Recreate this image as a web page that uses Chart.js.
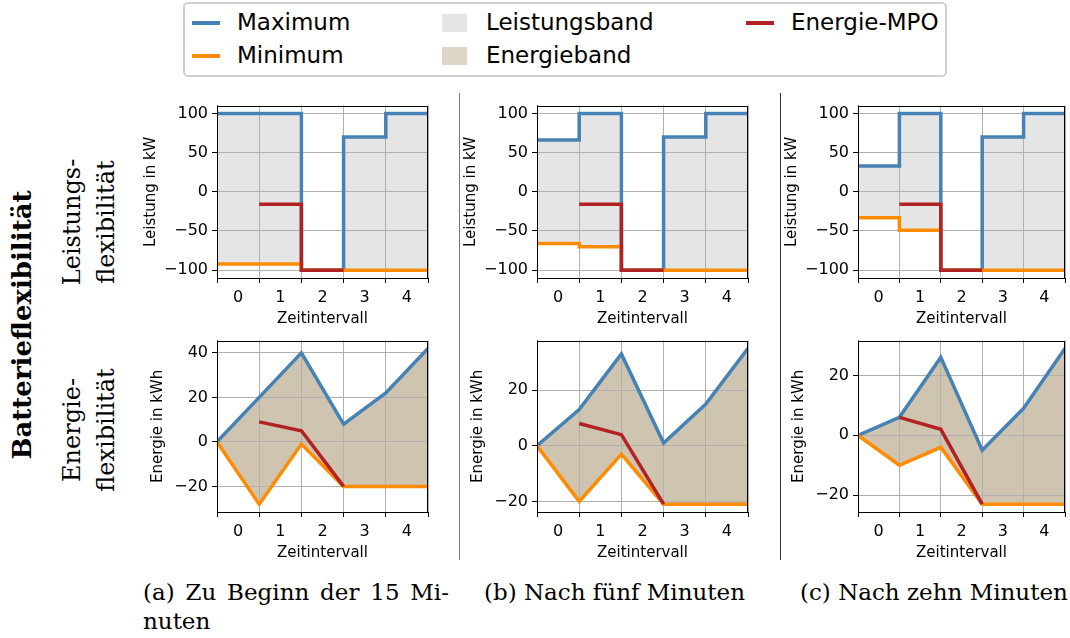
<!DOCTYPE html>
<html>
<head>
<meta charset="utf-8">
<script src="https://cdn.jsdelivr.net/npm/chart.js@4.4.1/dist/chart.umd.min.js"></script>
<style>
  html, body { margin: 0; padding: 0; background: #fff; }
  body { width: 1070px; height: 638px; position: relative; overflow: hidden; font-family: 'DejaVu Sans', sans-serif; }
  canvas { position: absolute; }
  #legend { position: absolute; left: 183px; top: 2px; width: 760px; height: 71px; border: 2px solid #d0d0d0; border-radius: 5px; }
  .lg { position: absolute; font-size: 23px; line-height: 26px; color: #000; white-space: nowrap; }
  .hl { position: absolute; width: 28px; height: 4px; }
  .hp { position: absolute; width: 25px; height: 18px; }
  .serif { position: absolute; font-family: 'DejaVu Serif', serif; font-size: 23px; color: #000; white-space: nowrap; }
  .rot { transform: translate(-50%, -50%) rotate(-90deg); text-align: center; line-height: 34px; font-size: 24px; }
  .sep { position: absolute; width: 1px; }
</style>
</head>
<body>
<div id="legend">
  <div class="hl" style="left:7px;top:17px;background:#4682b4"></div>
  <div class="lg" style="left:52px;top:5px">Maximum</div>
  <div class="hl" style="left:7px;top:50px;background:#ff8c00"></div>
  <div class="lg" style="left:52px;top:38px">Minimum</div>
  <div class="hp" style="left:257px;top:10px;background:#e5e5e5"></div>
  <div class="lg" style="left:301px;top:5px">Leistungsband</div>
  <div class="hp" style="left:257px;top:43px;background:#ddd5c5"></div>
  <div class="lg" style="left:301px;top:38px">Energieband</div>
  <div class="hl" style="left:561px;top:17px;background:#b22222"></div>
  <div class="lg" style="left:606px;top:5px">Energie-MPO</div>
</div>

<div class="serif rot" style="left:22px;top:325px;font-weight:bold;font-size:26px">Batterieflexibilität</div>
<div class="serif rot" style="left:89px;top:222px">Leistungs-<br>flexibilität</div>
<div class="serif rot" style="left:89px;top:430px">Energie-<br>flexibilität</div>

<div class="sep" style="left:459px;top:93px;height:467px;background:#777"></div>
<div class="sep" style="left:780px;top:93px;height:467px;background:#333"></div>

<div class="serif" style="left:143px;top:579px;width:306px;text-align:justify;text-align-last:justify">(a) Zu Beginn der 15 Mi-</div>
<div class="serif" style="left:143px;top:608px">nuten</div>
<div class="serif" style="left:484px;top:579px">(b) Nach fünf Minuten</div>
<div class="serif" style="left:800px;top:579px">(c) Nach zehn Minuten</div>

<canvas id="pa"></canvas><canvas id="pb"></canvas><canvas id="pc"></canvas>
<canvas id="ea"></canvas><canvas id="eb"></canvas><canvas id="ec"></canvas>

<script>
// Zeitintervalle (x-Achse)
const intervalLabels = ['0', '1', '2', '3', '4'];

// Leistung in kW je Zeitintervall
const powerMaxA = [100, 100, -100, 70, 100];
const powerMinA = [-92, -92, -100, -100, -100];
const powerMaxB = [66, 100, -100, 70, 100];
const powerMinB = [-66, -70, -100, -100, -100];
const powerMaxC = [33, 100, -100, 70, 100];
const powerMinC = [-33, -49, -100, -100, -100];
const powerMpo = [null, -16, -100, null, null];

// Energie in kWh an den Intervallgrenzen 0..5
const energyMaxA = [0, 20, 40, 8, 22, 42];
const energyMinA = [0, -28, -1, -20, -20, -20];
const energyMpoA = [null, 9, 5, -20, null, null];
const energyMaxB = [0, 13, 33, 1, 15, 35];
const energyMinB = [0, -20, -3, -21, -21, -21];
const energyMpoB = [null, 8, 4, -21, null, null];
const energyMaxC = [0, 6, 26, -5, 9, 29];
const energyMinC = [0, -10, -4, -23, -23, -23];
const energyMpoC = [null, 6, 2, -23, null, null];

const BLUE = '#4682b4', ORANGE = '#ff8c00', RED = '#b22222';
const GRID = '#b0b0b0';
const LW = 3.5;
const isInt = v => Math.abs(v - Math.round(v)) < 1e-9;
const minus = v => (v < 0 ? '\u2212' + Math.abs(v) : '' + v);

// step data: value of interval i from x=i to x=i+1
function stepPoints(vals) {
  const pts = [];
  let last = -1;
  vals.forEach((v, i) => { if (v !== null) { pts.push({ x: i, y: v }); last = i; } });
  if (last >= 0) pts.push({ x: last + 1, y: vals[last] });
  return pts;
}
function timePoints(vals) {
  return vals.map((v, i) => ({ x: i, y: v }));
}

const gridOnTop = {
  id: 'gridOnTop',
  beforeDatasetsDraw(chart) {
    chart.scales.x.drawGrid(chart.chartArea);
    chart.scales.y.drawGrid(chart.chartArea);
  }
};
const frame = {
  id: 'frame',
  afterDraw(chart) {
    const a = chart.chartArea, ctx = chart.ctx;
    ctx.save();
    ctx.strokeStyle = '#000';
    ctx.lineWidth = 1;
    ctx.strokeRect(Math.round(a.left) + 0.5, Math.round(a.top) + 0.5,
      Math.round(a.right - a.left) - 1, Math.round(a.bottom - a.top));
    ctx.restore();
  }
};

function makeChart(id, box, opts) {
  const cv = document.getElementById(id);
  const yW = 80, xH = 50, padT = 12, padR = box.padR;
  cv.width = yW + box.w + padR;
  cv.height = padT + box.h + xH;
  cv.style.left = (box.l - yW) + 'px';
  cv.style.top = (box.t - padT) + 'px';

  const n = intervalLabels.length;
  const xTicks = [];
  for (let i = 0; i <= n; i++) { xTicks.push(i); if (i < n) xTicks.push(i + 0.5); }

  const all = opts.max.concat(opts.min).filter(v => v !== null);
  const lo = Math.min(...all), hi = Math.max(...all);
  const m = 0.05 * (hi - lo);

  const pts = opts.stepped ? stepPoints : timePoints;
  const stepMode = opts.stepped ? 'before' : false;

  new Chart(cv, {
    type: 'line',
    data: {
      datasets: [
        { label: 'Maximum', data: pts(opts.max), borderColor: BLUE, backgroundColor: opts.band,
          fill: 1, stepped: stepMode, borderWidth: LW, order: 2 },
        { label: 'Minimum', data: pts(opts.min), borderColor: ORANGE, fill: false,
          stepped: stepMode, borderWidth: LW, order: 1 },
        { label: 'Energie-MPO', data: pts(opts.mpo), borderColor: RED, fill: false,
          stepped: stepMode, borderWidth: LW, order: 0 }
      ]
    },
    plugins: [gridOnTop, frame],
    options: {
      responsive: false,
      animation: false,
      devicePixelRatio: 1,
      layout: { padding: { top: padT, right: padR, left: 0, bottom: 0 } },
      elements: { point: { radius: 0 }, line: { tension: 0, borderCapStyle: 'butt' } },
      plugins: {
        legend: { display: false },
        tooltip: { enabled: false },
        filler: { drawTime: 'beforeDatasetsDraw' }
      },
      scales: {
        x: {
          type: 'linear', min: 0, max: n,
          afterBuildTicks: s => { s.ticks = xTicks.map(v => ({ value: v })); },
          afterFit: s => { s.height = xH; },
          grid: {
            color: c => (c.tick && isInt(c.tick.value) ? GRID : 'rgba(0,0,0,0)'),
            tickColor: c => (c.tick && isInt(c.tick.value) ? '#000' : 'rgba(0,0,0,0)'),
            tickLength: 5, lineWidth: 1
          },
          border: { color: '#000' },
          ticks: {
            autoSkip: false, maxRotation: 0, minRotation: 0, padding: 5,
            color: '#000', font: { size: 16 },
            callback: v => (isInt(v) ? '' : intervalLabels[Math.floor(v)])
          },
          title: { display: true, text: 'Zeitintervall', color: '#000', font: { size: 15 }, padding: 0 }
        },
        y: {
          min: lo - m, max: hi + m,
          afterFit: s => { s.width = yW; },
          grid: { color: GRID, tickColor: '#000', tickLength: 5, lineWidth: 1 },
          border: { color: '#000' },
          ticks: {
            stepSize: opts.step, includeBounds: false, padding: 4,
            color: '#000', font: { size: 16 }, callback: v => minus(v)
          },
          title: { display: true, text: opts.yTitle, color: '#000', font: { size: 15 },
            padding: { top: opts.titlePad, bottom: 0 } }
        }
      }
    }
  });
}

Chart.defaults.font.family = "'DejaVu Sans', sans-serif";

const GRAY_BAND = '#e5e5e5';
const TAN_BAND = '#cfc4af';
const powerBox = (l, w, padR) => ({ l, t: 104, w, h: 174, padR });
const energyBox = (l, w, padR) => ({ l, t: 339, w, h: 173, padR });

makeChart('pa', powerBox(217, 211, 6), { stepped: true, max: powerMaxA, min: powerMinA, mpo: powerMpo, band: GRAY_BAND, step: 50, yTitle: 'Leistung in kW', titlePad: 5 });
makeChart('pb', powerBox(537, 211, 6), { stepped: true, max: powerMaxB, min: powerMinB, mpo: powerMpo, band: GRAY_BAND, step: 50, yTitle: 'Leistung in kW', titlePad: 5 });
makeChart('pc', powerBox(858, 210, 2), { stepped: true, max: powerMaxC, min: powerMinC, mpo: powerMpo, band: GRAY_BAND, step: 50, yTitle: 'Leistung in kW', titlePad: 5 });
makeChart('ea', energyBox(217, 211, 6), { stepped: false, max: energyMaxA, min: energyMinA, mpo: energyMpoA, band: TAN_BAND, step: 20, yTitle: 'Energie in kWh', titlePad: 12 });
makeChart('eb', energyBox(537, 211, 6), { stepped: false, max: energyMaxB, min: energyMinB, mpo: energyMpoB, band: TAN_BAND, step: 20, yTitle: 'Energie in kWh', titlePad: 12 });
makeChart('ec', energyBox(858, 210, 2), { stepped: false, max: energyMaxC, min: energyMinC, mpo: energyMpoC, band: TAN_BAND, step: 20, yTitle: 'Energie in kWh', titlePad: 12 });
</script>
</body>
</html>
